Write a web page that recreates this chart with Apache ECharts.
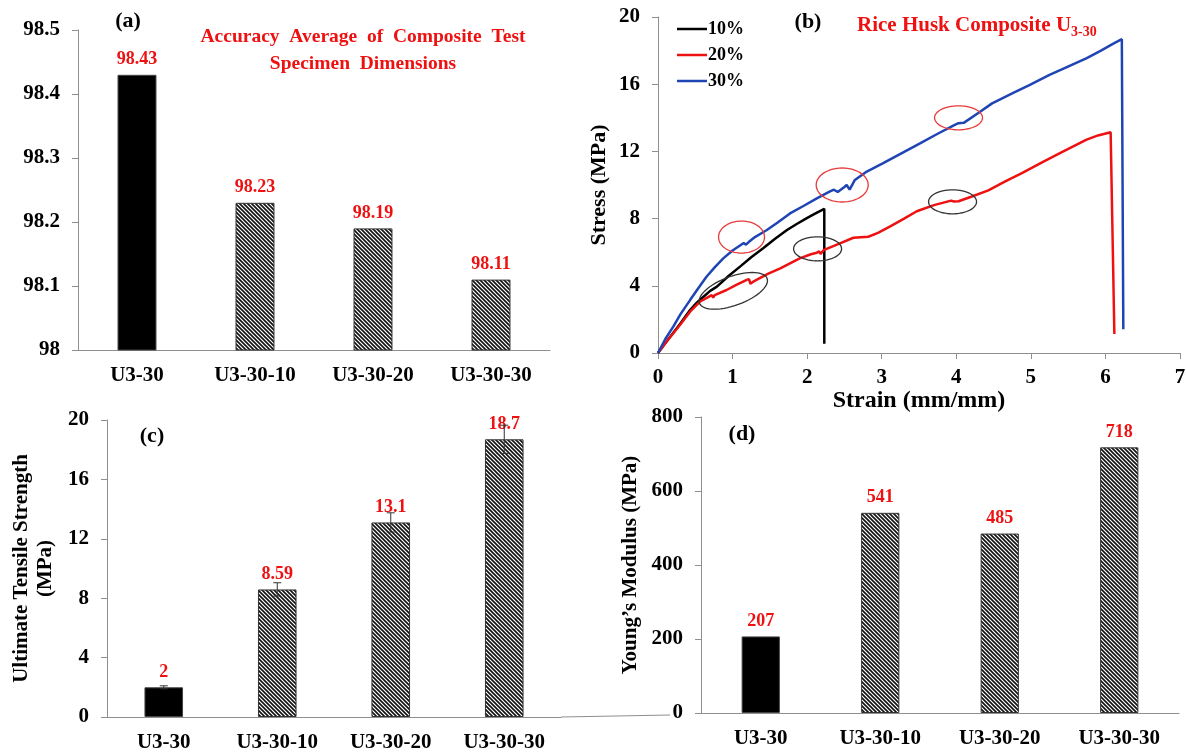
<!DOCTYPE html>
<html>
<head>
<meta charset="utf-8">
<title>Rice Husk Composite U3-30</title>
<script src="https://cdn.jsdelivr.net/npm/echarts@6/dist/echarts.min.js"></script>
<style>
  html, body { margin: 0; padding: 0; background: #fff; }
  #chart { width: 1186px; height: 756px; }
</style>
</head>
<body>
<div id="chart"></div>
<script>
// ---- data ----
var specimens = ['U3-30', 'U3-30-10', 'U3-30-20', 'U3-30-30'];
var accuracy = [98.43, 98.23, 98.19, 98.11];
var tensile = [2, 8.59, 13.1, 18.7];
var tensileErr = [0.1, 0.45, 0.65, 0.95];
var modulus = [207, 541, 485, 718];

var curveNames = ['10%', '20%', '30%'];
var curve10 = [[0, 0], [0.1, 0.6], [0.2, 1.17], [0.3, 1.75], [0.43, 2.56], [0.52, 3.0], [0.61, 3.35],
  [0.7, 3.7], [0.79, 3.95], [0.95, 4.6], [1.1, 5.14], [1.25, 5.7], [1.41, 6.23], [1.57, 6.8],
  [1.73, 7.32], [1.86, 7.68], [1.99, 8.01], [2.1, 8.28], [2.23, 8.58], [2.23, 0.55]];
var curve20 = [[0, 0], [0.1, 0.6], [0.2, 1.15], [0.3, 1.7], [0.43, 2.46], [0.56, 3.05], [0.66, 3.3],
  [0.72, 3.45], [0.74, 3.3], [0.76, 3.45], [0.92, 3.75], [1.05, 4.05], [1.19, 4.35], [1.22, 4.4],
  [1.24, 4.12], [1.28, 4.25], [1.32, 4.35], [1.48, 4.72], [1.64, 5.04], [1.9, 5.63], [2.05, 5.88],
  [2.13, 5.97], [2.16, 6.05], [2.18, 5.9], [2.22, 6.12], [2.44, 6.53], [2.62, 6.86], [2.82, 6.92],
  [2.95, 7.15], [3.12, 7.55], [3.3, 8.0], [3.47, 8.44], [3.7, 8.8], [3.93, 9.07], [3.97, 9.02],
  [4.03, 9.03], [4.2, 9.3], [4.43, 9.68], [4.65, 10.2], [4.88, 10.71], [5.15, 11.35], [5.39, 11.9],
  [5.74, 12.69], [5.9, 12.95], [6.07, 13.14], [6.12, 1.13]];
var curve30 = [[0, 0], [0.1, 0.85], [0.205, 1.57], [0.3, 2.3], [0.43, 3.15], [0.54, 3.85], [0.65, 4.54],
  [0.76, 5.1], [0.875, 5.63], [1.0, 6.1], [1.1, 6.4], [1.15, 6.55], [1.18, 6.45], [1.22, 6.62],
  [1.3, 6.9], [1.46, 7.32], [1.6, 7.75], [1.77, 8.31], [1.95, 8.75], [2.13, 9.2], [2.3, 9.6],
  [2.36, 9.72], [2.41, 9.58], [2.5, 9.88], [2.53, 10.0], [2.57, 9.72], [2.64, 10.3], [2.8, 10.8],
  [3.02, 11.3], [3.27, 11.9], [3.52, 12.49], [3.75, 13.05], [3.98, 13.58], [4.03, 13.68], [4.1, 13.7],
  [4.3, 14.3], [4.48, 14.86], [4.75, 15.45], [4.98, 15.95], [5.25, 16.55], [5.49, 17.03], [5.75, 17.55],
  [5.94, 18.0], [6.1, 18.4], [6.22, 18.68], [6.24, 1.42]];

// centres of the hand-drawn rings (strain, stress)
var redRings = [[1.12, 6.9], [2.47, 10.0], [4.03, 14.0]];
var blackRings = [[1.01, 3.7], [2.14, 6.2], [3.95, 9.0]];

// ---- styling ----
var serif = 'Liberation Serif';
var axisGray = '#8f8f8f';
var labelRed = '#ee1111';
var redRingShape = [[23, 16, 0], [26, 17, 0], [24, 12, 0]];      // rx, ry, tilt
var blackRingShape = [[36, 14.5, 0.35], [24, 12, 0], [24, 12, 0]];

function hatchCanvas() {
  var c = document.createElement('canvas');
  c.width = 4; c.height = 4;
  var g = c.getContext('2d');
  g.fillStyle = '#fff';
  g.fillRect(0, 0, 4, 4);
  g.strokeStyle = '#111';
  g.lineWidth = 1.6;
  g.beginPath();
  g.moveTo(-1, -1); g.lineTo(5, 5);
  g.moveTo(-1, 3); g.lineTo(1, 5);
  g.moveTo(3, -1); g.lineTo(5, 1);
  g.stroke();
  return c;
}
var hatch = { image: hatchCanvas(), repeat: 'repeat' };

function barData(values) {
  return values.map(function (v, i) {
    return {
      value: v,
      itemStyle: i === 0 ? { color: '#000', borderColor: '#444', borderWidth: 1 }
                         : { color: hatch, borderColor: '#333', borderWidth: 1 }
    };
  });
}

var tickFont = { fontFamily: serif, fontWeight: 'bold', fontSize: 21, color: '#000' };

function catAxis(gi) {
  return {
    type: 'category', gridIndex: gi, data: specimens,
    axisLine: { lineStyle: { color: axisGray } },
    axisTick: { length: 8, lineStyle: { color: axisGray } },
    axisLabel: Object.assign({ margin: 15 }, tickFont)
  };
}
function valAxis(gi, min, max, step) {
  return {
    type: 'value', gridIndex: gi, min: min, max: max, interval: step,
    axisLine: { show: true, lineStyle: { color: axisGray } },
    axisTick: { show: true, length: 6, lineStyle: { color: axisGray } },
    splitLine: { show: false },
    axisLabel: Object.assign({ margin: 18 }, tickFont)
  };
}

function ringRenderer(shapes, color) {
  return function (params, api) {
    var c = api.coord([api.value(0), api.value(1)]);
    var s = shapes[params.dataIndex];
    var pts = [];
    for (var k = 0; k < 60; k++) {
      var t = k / 60 * Math.PI * 2;
      var ex = s[0] * Math.cos(t), ey = s[1] * Math.sin(t);
      pts.push([c[0] + ex * Math.cos(s[2]) + ey * Math.sin(s[2]),
                c[1] - ex * Math.sin(s[2]) + ey * Math.cos(s[2])]);
    }
    return { type: 'polygon', shape: { points: pts }, style: { fill: 'none', stroke: color, lineWidth: 1.3 } };
  };
}

function errRenderer(params, api) {
  var x = api.value(0);
  var lo = api.coord([x, api.value(1)]);
  var hi = api.coord([x, api.value(2)]);
  var st = { stroke: '#333', lineWidth: 1 };
  return {
    type: 'group', children: [
      { type: 'line', shape: { x1: hi[0], y1: hi[1], x2: lo[0], y2: lo[1] }, style: st },
      { type: 'line', shape: { x1: hi[0] - 4, y1: hi[1], x2: hi[0] + 4, y2: hi[1] }, style: st },
      { type: 'line', shape: { x1: lo[0] - 4, y1: lo[1], x2: lo[0] + 4, y2: lo[1] }, style: st }
    ]
  };
}

var barLabel = { show: true, position: 'top', distance: 6, color: labelRed,
  fontFamily: serif, fontWeight: 'bold', fontSize: 18 };

var chart = echarts.init(document.getElementById('chart'), null, { renderer: 'canvas' });

var option = {
  animation: false,
  backgroundColor: '#fff',
  grid: [
    { left: 78, top: 30, width: 472, height: 320, outerBoundsMode: 'none' },
    { left: 658, top: 17, width: 522, height: 336, outerBoundsMode: 'none' },
    { left: 107, top: 420, width: 454, height: 297, outerBoundsMode: 'none' },
    { left: 701, top: 417, width: 478, height: 296, outerBoundsMode: 'none' }
  ],
  xAxis: [
    catAxis(0),
    Object.assign(valAxis(1, 0, 7, 1), {
      name: 'Strain (mm/mm)', nameLocation: 'middle', nameGap: 33,
      nameTextStyle: { fontFamily: serif, fontWeight: 'bold', fontSize: 24, color: '#000' },
      axisLabel: Object.assign({ margin: 14 }, tickFont)
    }),
    catAxis(2),
    catAxis(3)
  ],
  yAxis: [
    valAxis(0, 98, 98.5, 0.1),
    Object.assign(valAxis(1, 0, 20, 4), {
      name: 'Stress (MPa)', nameLocation: 'middle', nameGap: 48,
      nameTextStyle: { fontFamily: serif, fontWeight: 'bold', fontSize: 22, color: '#000' }
    }),
    Object.assign(valAxis(2, 0, 20, 4), {
      name: 'Ultimate Tensile Strength\n(MPa)', nameLocation: 'middle', nameGap: 49,
      nameTextStyle: { fontFamily: serif, fontWeight: 'bold', fontSize: 21, color: '#000', lineHeight: 24 }
    }),
    Object.assign(valAxis(3, 0, 800, 200), {
      name: 'Young\u2019s Modulus (MPa)', nameLocation: 'middle', nameGap: 60,
      nameTextStyle: { fontFamily: serif, fontWeight: 'bold', fontSize: 21, color: '#000' }
    })
  ],
  legend: {
    data: curveNames.map(function (n) { return { name: n, icon: 'rect' }; }),
    orient: 'vertical', left: 672, top: 15,
    itemWidth: 30, itemHeight: 2.5, itemGap: 8,
    textStyle: { fontFamily: serif, fontWeight: 'bold', fontSize: 18, color: '#000', padding: [0, 0, 0, -4] }
  },
  graphic: [
    { type: 'text', x: 128, y: 21, style: { text: '(a)', align: 'center', verticalAlign: 'middle',
      font: 'bold 22px "Liberation Serif"', fill: '#000' } },
    { type: 'text', x: 363, y: 50, style: { text: 'Accuracy  Average  of  Composite  Test\nSpecimen  Dimensions',
      align: 'center', verticalAlign: 'middle', lineHeight: 27,
      font: 'bold 19.5px "Liberation Serif"', fill: labelRed } },
    { type: 'text', x: 808, y: 22, style: { text: '(b)', align: 'center', verticalAlign: 'middle',
      font: 'bold 22px "Liberation Serif"', fill: '#000' } },
    { type: 'text', x: 857, y: 26, style: {
      text: '{m|Rice Husk Composite U}{s|3-30}', verticalAlign: 'middle',
      rich: {
        m: { fontFamily: serif, fontWeight: 'bold', fontSize: 21, fill: labelRed, color: labelRed },
        s: { fontFamily: serif, fontWeight: 'bold', fontSize: 14, fill: labelRed, color: labelRed, padding: [13, 0, 0, 0] }
      } } },
    { type: 'text', x: 152, y: 436, style: { text: '(c)', align: 'center', verticalAlign: 'middle',
      font: 'bold 22px "Liberation Serif"', fill: '#000' } },
    { type: 'text', x: 742, y: 434, style: { text: '(d)', align: 'center', verticalAlign: 'middle',
      font: 'bold 22px "Liberation Serif"', fill: '#000' } },
    { type: 'line', shape: { x1: 561, y1: 717, x2: 670, y2: 715 }, style: { stroke: axisGray, lineWidth: 1 } }
  ],
  series: [
    { type: 'bar', xAxisIndex: 0, yAxisIndex: 0, barWidth: '33%', data: barData(accuracy), label: barLabel },

    { name: '10%', type: 'line', xAxisIndex: 1, yAxisIndex: 1, data: curve10, symbol: 'none',
      color: '#000', lineStyle: { width: 2.5, color: '#000' } },
    { name: '20%', type: 'line', xAxisIndex: 1, yAxisIndex: 1, data: curve20, symbol: 'none',
      color: '#ee1111', lineStyle: { width: 2.5, color: '#ee1111' } },
    { name: '30%', type: 'line', xAxisIndex: 1, yAxisIndex: 1, data: curve30, symbol: 'none',
      color: '#1f44b4', lineStyle: { width: 2.5, color: '#1f44b4' } },
    { type: 'custom', xAxisIndex: 1, yAxisIndex: 1, data: redRings, silent: true, z: 5,
      renderItem: ringRenderer(redRingShape, '#e83a3a') },
    { type: 'custom', xAxisIndex: 1, yAxisIndex: 1, data: blackRings, silent: true, z: 5,
      renderItem: ringRenderer(blackRingShape, '#333') },

    { type: 'bar', xAxisIndex: 2, yAxisIndex: 2, barWidth: '34%', data: barData(tensile), label: barLabel },
    { type: 'custom', xAxisIndex: 2, yAxisIndex: 2, silent: true, z: 4,
      encode: { x: 0, y: [1, 2] },
      data: tensile.map(function (v, i) { return [i, v - tensileErr[i], v + tensileErr[i]]; }),
      renderItem: errRenderer },

    { type: 'bar', xAxisIndex: 3, yAxisIndex: 3, barWidth: '32%', data: barData(modulus), label: barLabel }
  ]
};

chart.setOption(option);
window.addEventListener('resize', chart.resize);
</script>
</body>
</html>
